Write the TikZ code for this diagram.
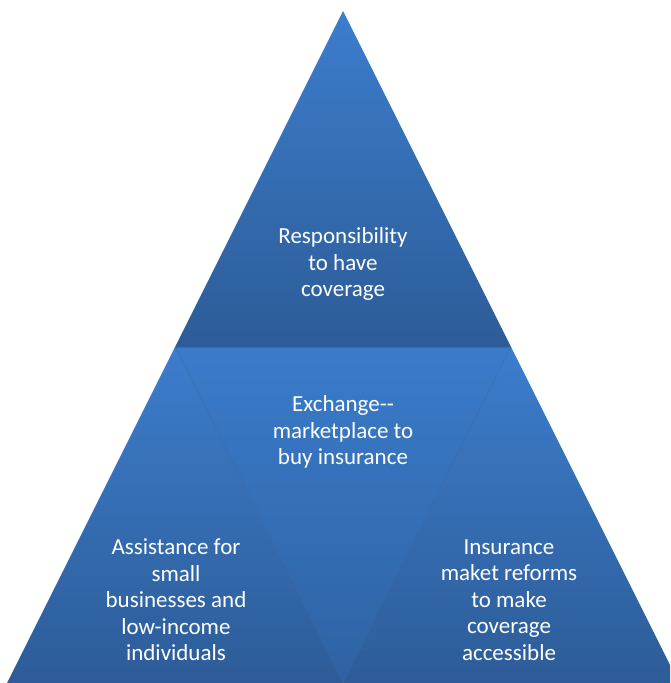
\documentclass[tikz,border=0pt]{standalone}
\usepackage{fontspec}
\setmainfont{Carlito}
\usepackage{tikz}
\usetikzlibrary{calc,backgrounds}
\definecolor{lightblue}{HTML}{3C7DCC}
\definecolor{darkblue}{HTML}{2D5C98}
\definecolor{midblue}{HTML}{3A7BCA}
\definecolor{shadeblue}{HTML}{2F62A3}

\begin{document}
\begin{tikzpicture}[x=1pt, y=-1pt,
    label/.style={text=white, align=center, font=\fontsize{23}{26.5}\selectfont}]
    \useasboundingbox (0,0) rectangle (670,683);
    \clip (0,0) rectangle (670,683);

    % the corners of the big triangle and the middle of its sides
    \coordinate (top) at (343,11);
    \coordinate (bl) at (7,683);
    \coordinate (br) at (679,683);
    \coordinate (ml) at (175,347);
    \coordinate (mr) at (511,347);
    \coordinate (bm) at (343,683);

    % draw the four triangles
    \shade[top color=lightblue, bottom color=darkblue] (top) -- (ml) -- (mr) -- cycle;
    \shade[top color=lightblue, bottom color=darkblue] (ml) -- (bl) -- (bm) -- cycle;
    \shade[top color=lightblue, bottom color=darkblue] (mr) -- (bm) -- (br) -- cycle;
    \shade[top color=midblue, bottom color=shadeblue] (ml) -- (mr) -- (bm) -- cycle;

    % the thin shadows between them
    \draw[darkblue!80!black, opacity=0.35, line width=0.8pt] (ml) -- (bm) -- (mr);
    \draw[darkblue!80!black, opacity=0.25, line width=0.6pt] (ml) -- (mr);

    % the texts
    \node[label] (resp) at (343,264) {Responsibility\\to have\\coverage};
    \node[label] (exch) at (343,432) {Exchange-{}-\\marketplace to\\buy insurance};
    \node[label] (assist) at (176,600) {Assistance for\\small\\businesses and\\low-income\\individuals};
    \node[label] (reform) at (509,600) {Insurance\\maket reforms\\to make\\coverage\\accessible};
\end{tikzpicture}
\end{document}
